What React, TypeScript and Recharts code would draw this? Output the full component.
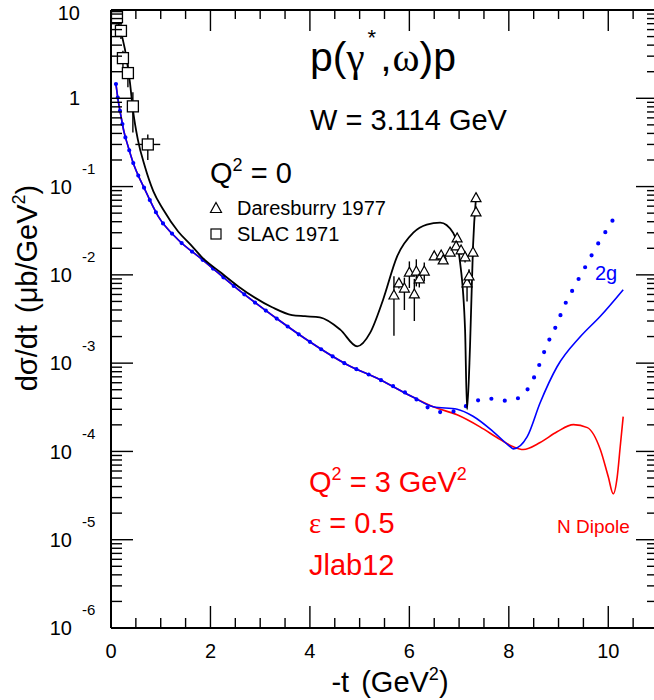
import React from 'react'
import { ComposedChart, Line, Scatter, ErrorBar, XAxis, YAxis } from 'recharts'

const FONT = '"Liberation Sans", Arial, Helvetica, sans-serif'
const SERIF = '"Liberation Serif", "DejaVu Serif", serif'

// -t in GeV^2, dsigma/dt in ub/GeV^2

// Q^2 = 0 model curve
const photoT = [0.08, 0.28, 0.38, 0.44, 0.54, 0.68, 0.85, 1.05, 1.35, 1.6, 1.83, 2.2, 2.56, 3.24, 3.64, 3.9, 4.2, 4.61, 4.95, 5.21, 5.47, 5.75, 6.08, 6.35, 6.62, 6.88, 7.02, 7.12, 7.16, 7.22, 7.28, 7.34]
const photoDsdt = [9.5, 3.6, 1.52, 0.75, 0.34, 0.17, 0.089, 0.055, 0.031, 0.022, 0.0158, 0.0107, 0.0074, 0.0043, 0.0035, 0.0034, 0.0033, 0.0024, 0.00155, 0.0022, 0.0052, 0.016, 0.03, 0.037, 0.039, 0.03, 0.0138, 0.0024, 0.0003, 0.00155, 0.021, 0.075]

// Q^2 = 3 GeV^2, two-gluon exchange (solid)
const twoGluonT = [0.1, 0.14, 0.2, 0.26, 0.34, 0.44, 0.68, 0.95, 1.35, 1.83, 2.56, 3.4, 3.9, 4.75, 5.41, 6.08, 6.48, 6.96, 7.28, 7.69, 8.03, 8.09, 8.37, 8.63, 8.97, 9.44, 9.84, 10.3]
const twoGluonDsdt = [1.45, 0.98, 0.63, 0.42, 0.29, 0.19, 0.093, 0.046, 0.025, 0.015, 0.0068, 0.003, 0.0019, 0.00096, 0.00065, 0.00041, 0.00032, 0.0003, 0.00025, 0.000167, 0.000113, 0.000107, 0.000147, 0.000356, 0.00091, 0.002, 0.0034, 0.0068]

// Q^2 = 3 GeV^2, dotted variant
const dottedT = [0.1, 0.14, 0.2, 0.26, 0.34, 0.44, 0.68, 0.95, 1.35, 1.83, 2.56, 3.4, 3.9, 4.75, 5.41, 6.08, 6.46, 6.74, 7.04, 7.3, 7.61, 7.93, 8.21, 8.41, 8.55, 8.67, 8.77, 8.91, 9.03, 9.15, 9.3, 9.44, 9.6, 9.74, 9.9, 10.06, 10.22]
const dottedDsdt = [1.45, 0.98, 0.63, 0.42, 0.29, 0.19, 0.093, 0.046, 0.025, 0.015, 0.0068, 0.003, 0.0019, 0.00096, 0.00065, 0.00041, 0.000297, 0.000275, 0.000305, 0.000366, 0.000396, 0.000376, 0.000406, 0.00054, 0.00078, 0.00116, 0.00163, 0.00234, 0.0034, 0.0049, 0.007, 0.0098, 0.0142, 0.02, 0.028, 0.039, 0.055]

// Q^2 = 3 GeV^2, nucleon dipole form factor
const dipoleT = [0.1, 0.14, 0.2, 0.26, 0.34, 0.44, 0.68, 0.95, 1.35, 1.83, 2.56, 3.4, 3.9, 4.75, 5.41, 6.08, 6.48, 6.96, 7.42, 7.83, 8.09, 8.29, 8.63, 8.97, 9.3, 9.58, 9.84, 10.0, 10.1, 10.18, 10.24, 10.3]
const dipoleDsdt = [1.45, 0.98, 0.63, 0.42, 0.29, 0.19, 0.093, 0.046, 0.025, 0.015, 0.0068, 0.003, 0.0019, 0.00096, 0.00065, 0.00041, 0.00032, 0.00026, 0.00019, 0.000136, 0.000113, 0.000105, 0.000126, 0.000167, 0.000201, 0.000186, 0.000105, 0.0000516, 0.0000331, 0.0000516, 0.000113, 0.000248]

// SLAC 1971
const slacT = [0.12, 0.2, 0.24, 0.34, 0.44, 0.74]
const slacDsdt = [8.3, 5.8, 2.85, 1.93, 0.81, 0.3]
const slacErrLo = [1.5, 1.1, 0.6, 0.6, 0.4, 0.1]
const slacErrHi = [1.7, 1.1, 0.6, 0.5, 0.36, 0.09]
const slacErrT = [0, 0, 0, 0, 0, 0.25]

// Daresbury 1977
const dlT = [5.69, 5.79, 5.9, 6.0, 6.1, 6.14, 6.2, 6.3, 6.5, 6.64, 6.68, 6.82, 6.96, 6.94, 7.04, 7.12, 7.16, 7.2, 7.28, 7.34, 7.34]
const dlDsdt = [0.00584, 0.008, 0.007, 0.0106, 0.006, 0.0109, 0.0089, 0.0109, 0.0162, 0.0166, 0.0146, 0.0179, 0.0259, 0.021, 0.0189, 0.0158, 0.008, 0.0096, 0.0179, 0.051, 0.074]
const dlErrLo = [0.0038, 0.001, 0.003, 0.0035, 0.003, 0.0035, 0.0017, 0.0025, 0.001, 0.0028, 0.001, 0.001, 0.002, 0.002, 0.002, 0.002, 0.003, 0.002, 0.002, 0.005, 0.006]
const dlErrHi = [0.0038, 0.001, 0.0023, 0.0036, 0.003, 0.0041, 0.0015, 0.0029, 0.001, 0.002, 0.001, 0.001, 0.002, 0.002, 0.002, 0.002, 0.002, 0.002, 0.002, 0.005, 0.006]

const X_MAX = 11
const Y_MIN = 1e-6
const Y_MAX = 10
const xMajor = [0, 2, 4, 6, 8, 10]
const xStep = 0.5
const yDecades = [-6, -5, -4, -3, -2, -1, 0, 1]
const yMinor = [2, 3, 4, 5, 6, 7, 8, 9]

const xTicks: number[] = []
for (let v = 0; v <= X_MAX + 1e-9; v += xStep) xTicks.push(Math.round(v * 10) / 10)
const yTicks: number[] = []
yDecades.forEach((d, i) => {
  yTicks.push(Math.pow(10, d))
  if (i < yDecades.length - 1) yMinor.forEach((m) => yTicks.push(m * Math.pow(10, d)))
})

const curve = (t: number[], v: number[]) => t.map((x, i) => ({ t: x, v: v[i] }))
const slac = slacT.map((t, i) => ({ t, v: slacDsdt[i], ey: [slacErrLo[i], slacErrHi[i]], ex: slacErrT[i] }))
const daresbury = dlT.map((t, i) => ({ t, v: dlDsdt[i], ey: [dlErrLo[i], dlErrHi[i]] }))

// chart box; the plot runs a little past the right edge of the page
const CHART_W = 670
const CHART_H = 700
const MARGIN = { top: 10, right: 12, bottom: 0, left: 0 }
const Y_AXIS_W = 111
const X_AXIS_H = 72
const PLOT_X = MARGIN.left + Y_AXIS_W
const PLOT_Y = MARGIN.top
const PLOT_W = CHART_W - MARGIN.left - MARGIN.right - Y_AXIS_W
const PLOT_H = CHART_H - MARGIN.top - MARGIN.bottom - X_AXIS_H

// same mapping as the chart axes, used for the mirrored frame ticks only
const frameX = (v: number) => PLOT_X + (v / X_MAX) * PLOT_W
const frameY = (v: number) =>
  PLOT_Y + ((Math.log10(Y_MAX) - Math.log10(v)) / (Math.log10(Y_MAX) - Math.log10(Y_MIN))) * PLOT_H

const isDecade = (v: number) => {
  const lg = Math.log10(v)
  return Math.abs(lg - Math.round(lg)) < 1e-6
}
const xTickLen = (v: number) => (xMajor.includes(v) ? 22 : 10)
const yTickLen = (v: number) => (isDecade(v) ? 22 : 11)

const TICK_W = 1.4

function LeftTick({ x, y, payload }: any) {
  const v = payload.value as number
  const exp = Math.round(Math.log10(v))
  const major = isDecade(v)
  return (
    <g>
      <line x1={x} y1={y} x2={x + yTickLen(v)} y2={y} stroke="#000" strokeWidth={TICK_W} />
      {major && exp >= 0 && (
        <text x={x - 31} y={y + (exp === 1 ? 3 : 0)} dy="0.36em" textAnchor="end" fontSize={20} fontFamily={FONT} fill="#000">
          {exp === 0 ? '1' : '10'}
        </text>
      )}
      {major && exp < 0 && (
        <g>
          <text x={x - 39} y={y} dy="0.36em" textAnchor="end" fontSize={20} fontFamily={FONT} fill="#000">10</text>
          <text x={x - 29} y={y - 18} dy="0.36em" fontSize={15} fontFamily={FONT} fill="#000">{`${exp}`}</text>
        </g>
      )}
    </g>
  )
}

function BottomTick({ x, y, payload }: any) {
  const v = payload.value as number
  return (
    <g>
      <line x1={x} y1={y} x2={x} y2={y - xTickLen(v)} stroke="#000" strokeWidth={TICK_W} />
      {xMajor.includes(v) && (
        <text x={x} y={y + 23} dy="0.36em" textAnchor="middle" fontSize={20} fontFamily={FONT} fill="#000">{v}</text>
      )}
    </g>
  )
}

const Square = ({ cx, cy }: any) => (
  <rect x={cx - 5.5} y={cy - 5.5} width={11} height={11} fill="#fff" stroke="#000" strokeWidth={1.3} />
)
const Triangle = ({ cx, cy }: any) => (
  <path d={`M${cx},${cy - 5.5} L${cx + 5},${cy + 3.5} L${cx - 5},${cy + 3.5} Z`} fill="#fff" stroke="#000" strokeWidth={1.2} />
)
const NoShape = () => <g />

const axisLine = { stroke: '#000', strokeWidth: 2 }

export default function App() {
  return (
    <div style={{ position: 'absolute', left: 0, top: 0, width: CHART_W, height: CHART_H }}>
      <style>{'html,body{overflow:hidden}'}</style>
      <ComposedChart width={CHART_W} height={CHART_H} margin={MARGIN}>
        <XAxis
          dataKey="t"
          type="number"
          domain={[0, X_MAX]}
          ticks={xTicks}
          interval={0}
          tickSize={0}
          tickMargin={0}
          tickLine={false}
          axisLine={axisLine}
          tick={<BottomTick />}
          height={X_AXIS_H}
        />
        <YAxis
          dataKey="v"
          scale="log"
          domain={[Y_MIN, Y_MAX]}
          allowDataOverflow
          ticks={yTicks}
          interval={0}
          tickSize={0}
          tickMargin={0}
          tickLine={false}
          axisLine={axisLine}
          tick={<LeftTick />}
          width={Y_AXIS_W}
        />

        <Line data={curve(dipoleT, dipoleDsdt)} dataKey="v" type="monotone" stroke="#ff0000" strokeWidth={1.6} dot={false} activeDot={false} isAnimationActive={false} />
        <Line data={curve(twoGluonT, twoGluonDsdt)} dataKey="v" type="monotone" stroke="#0000ff" strokeWidth={1.6} dot={false} activeDot={false} isAnimationActive={false} />
        <Line data={curve(dottedT, dottedDsdt)} dataKey="v" type="monotone" stroke="#0000ff" strokeWidth={4.2} strokeDasharray="0 13.5" strokeLinecap="round" dot={false} activeDot={false} isAnimationActive={false} />
        <Line data={curve(photoT, photoDsdt)} dataKey="v" type="monotone" stroke="#000" strokeWidth={1.8} dot={false} activeDot={false} isAnimationActive={false} />

        {/* error bars first, open markers drawn over them */}
        <Scatter data={daresbury} dataKey="v" shape={<NoShape />} isAnimationActive={false}>
          <ErrorBar dataKey="ey" direction="y" width={0} stroke="#000" strokeWidth={1.4} />
        </Scatter>
        <Scatter data={slac} dataKey="v" shape={<NoShape />} isAnimationActive={false}>
          <ErrorBar dataKey="ey" direction="y" width={0} stroke="#000" strokeWidth={1.4} />
          <ErrorBar dataKey="ex" direction="x" width={0} stroke="#000" strokeWidth={1.4} />
        </Scatter>
        <Scatter data={daresbury} dataKey="v" shape={<Triangle />} isAnimationActive={false} />
        <Scatter data={slac} dataKey="v" shape={<Square />} isAnimationActive={false} />
      </ComposedChart>

      <svg width={CHART_W} height={CHART_H} style={{ position: 'absolute', left: 0, top: 0, pointerEvents: 'none' }} fontFamily={FONT}>
        {/* top and right sides of the box with inward ticks */}
        <path d={`M${PLOT_X},${PLOT_Y} H${PLOT_X + PLOT_W} V${PLOT_Y + PLOT_H}`} fill="none" stroke="#000" strokeWidth={2} />
        {xTicks.map((v) => (
          <line key={`tt-${v}`} x1={frameX(v)} y1={PLOT_Y} x2={frameX(v)} y2={PLOT_Y + xTickLen(v) - 1} stroke="#000" strokeWidth={TICK_W} />
        ))}
        {yTicks.map((v) => (
          <line key={`rt-${v}`} x1={PLOT_X + PLOT_W} y1={frameY(v)} x2={PLOT_X + PLOT_W - yTickLen(v)} y2={frameY(v)} stroke="#000" strokeWidth={TICK_W} />
        ))}

        <text x={310} y={71} fontSize={41} fill="#000">
          p(<tspan fontFamily={SERIF}>γ</tspan>
          <tspan dx={3} dy={-26} fontSize={22}>*</tspan>
          <tspan dx={4} dy={26}>,</tspan>
          <tspan dx={1} fontFamily={SERIF}>ω</tspan>)p
        </text>
        <text x={310} y={130} fontSize={29} fill="#000">W = 3.114 GeV</text>

        <text x={210} y={183} fontSize={29} fill="#000">
          Q<tspan dy={-12} fontSize={18}>2</tspan>
          <tspan dy={12}> = 0</tspan>
        </text>
        <path d="M216,202.5 L221.5,212.5 L210.5,212.5 Z" fill="none" stroke="#000" strokeWidth={1.2} />
        <text x={237} y={215} fontSize={20} fill="#000">Daresburry 1977</text>
        <rect x={211} y={229} width={10} height={10} fill="none" stroke="#000" strokeWidth={1.2} />
        <text x={237} y={241} fontSize={20} fill="#000">SLAC 1971</text>

        <text x={595} y={280} fontSize={20} fill="#0000ff">2g</text>

        <text x={309} y={492} fontSize={29} fill="#ff0000">
          Q<tspan dy={-12} fontSize={18}>2</tspan>
          <tspan dy={12}> = 3 GeV</tspan>
          <tspan dy={-12} fontSize={18}>2</tspan>
        </text>
        <text x={309} y={533} fontSize={29} fill="#ff0000">
          <tspan fontFamily={SERIF}>ε</tspan> = 0.5
        </text>
        <text x={309} y={575} fontSize={29} fill="#ff0000">Jlab12</text>
        <text x={557} y={533} fontSize={19} fill="#ff0000">N Dipole</text>

        <text x={390} y={692} fontSize={29} textAnchor="middle" fill="#000">
          -t<tspan dx={12}>(GeV</tspan>
          <tspan dy={-12} fontSize={18}>2</tspan>
          <tspan dy={12}>)</tspan>
        </text>
        <text transform="translate(37,288) rotate(-90)" x={0} y={0} fontSize={29} textAnchor="middle" fill="#000">
          dσ/dt<tspan dx={12}>(μb/GeV</tspan>
          <tspan dy={-12} fontSize={18}>2</tspan>
          <tspan dy={12}>)</tspan>
        </text>
      </svg>
    </div>
  )
}
